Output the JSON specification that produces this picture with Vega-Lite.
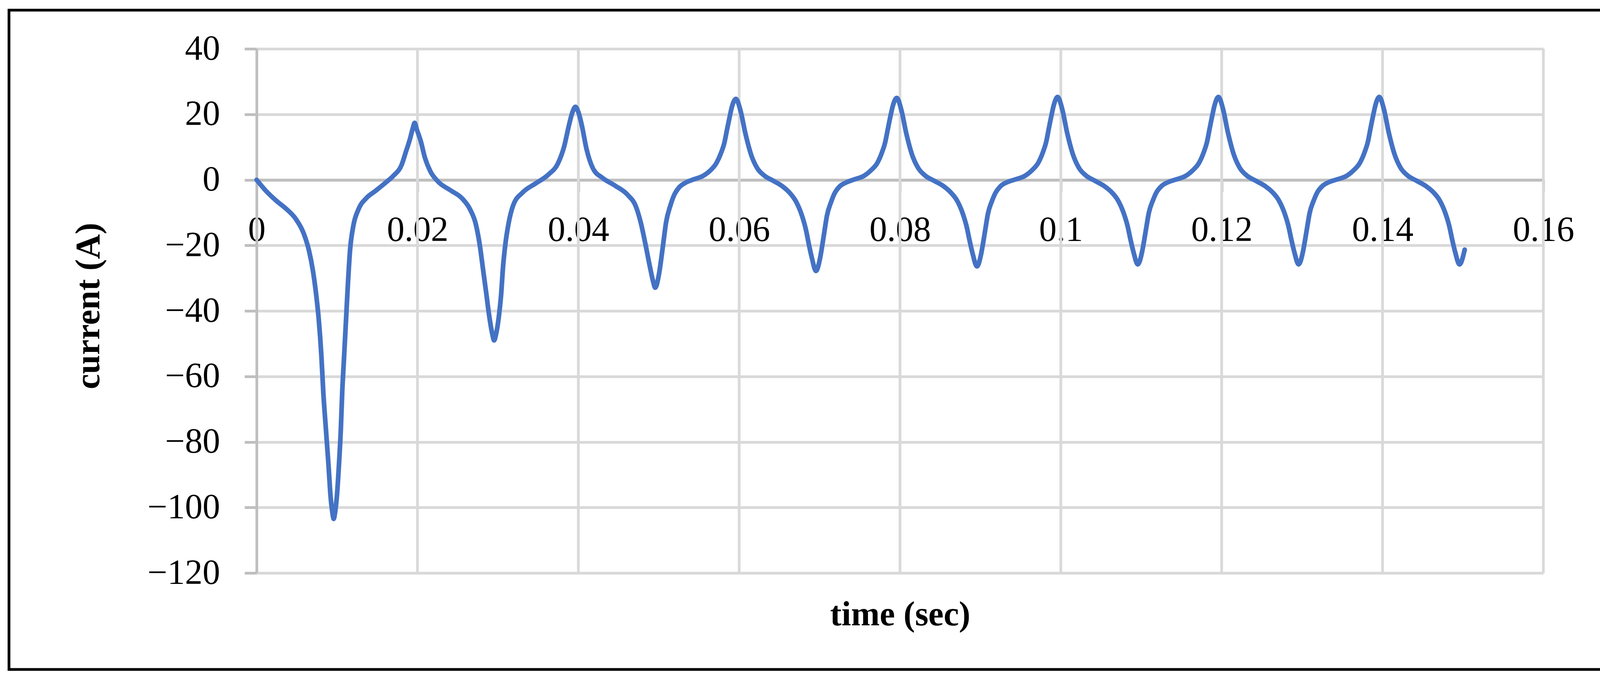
{
  "$schema": "https://vega.github.io/schema/vega-lite/v6.json",
  "autosize": {"type": "none"},
  "width": 4107,
  "height": 1688,
  "padding": {"left": 23, "top": 26, "right": 23, "bottom": 27},
  "background": "#ffffff",
  "config": {
    "view": {"stroke": "#000000", "strokeWidth": 7},
    "axis": {
      "labelFont": "Liberation Serif",
      "labelFontSize": 90,
      "labelColor": "#000000",
      "labelLimit": 0,
      "titleFont": "Liberation Serif",
      "titleFontSize": 88,
      "titleFontWeight": "bold",
      "titleColor": "#000000",
      "titleLimit": 0,
      "domainColor": "#bfbfbf",
      "domainWidth": 7,
      "tickColor": "#bfbfbf",
      "tickWidth": 7,
      "tickSize": 31,
      "labelOverlap": false,
      "labelFlush": false
    }
  },
  "layer": [
    {
      "data": {"values": [
        {"t": 0.02}, {"t": 0.04}, {"t": 0.06}, {"t": 0.08},
        {"t": 0.1}, {"t": 0.12}, {"t": 0.14}, {"t": 0.16}
      ]},
      "mark": {"type": "rule", "color": "#d9d9d9", "strokeWidth": 7},
      "encoding": {
        "x": {"field": "t", "type": "quantitative"},
        "y": {"datum": -120, "type": "quantitative"},
        "y2": {"datum": 40}
      }
    },
    {
      "data": {"values": [
        {"t": 0, "i": 0},
        {"t": 0.00117, "i": -3.4},
        {"t": 0.00246, "i": -6.4},
        {"t": 0.00375, "i": -9.0},
        {"t": 0.00489, "i": -12.0},
        {"t": 0.00586, "i": -16.4},
        {"t": 0.00651, "i": -21.6},
        {"t": 0.00699, "i": -27.6},
        {"t": 0.0074, "i": -35.0},
        {"t": 0.00772, "i": -42.5},
        {"t": 0.00805, "i": -53.7},
        {"t": 0.00829, "i": -64.9},
        {"t": 0.00861, "i": -76.0},
        {"t": 0.00894, "i": -87.2},
        {"t": 0.00918, "i": -96.2},
        {"t": 0.00942, "i": -101.6},
        {"t": 0.00958, "i": -103.5},
        {"t": 0.00975, "i": -101.6},
        {"t": 0.00999, "i": -96.2},
        {"t": 0.01023, "i": -87.2},
        {"t": 0.01047, "i": -76.0},
        {"t": 0.01064, "i": -64.9},
        {"t": 0.01088, "i": -53.7},
        {"t": 0.01112, "i": -42.5},
        {"t": 0.01136, "i": -31.3},
        {"t": 0.01161, "i": -21.6},
        {"t": 0.01201, "i": -14.2},
        {"t": 0.01266, "i": -9.0},
        {"t": 0.01363, "i": -5.6},
        {"t": 0.01476, "i": -3.4},
        {"t": 0.01606, "i": -0.8},
        {"t": 0.01703, "i": 1.3},
        {"t": 0.01803, "i": 4.6},
        {"t": 0.01855, "i": 8.5},
        {"t": 0.01908, "i": 12.6},
        {"t": 0.0194, "i": 15.6},
        {"t": 0.01965, "i": 17.4},
        {"t": 0.0199, "i": 15.5},
        {"t": 0.02041, "i": 11.8},
        {"t": 0.02091, "i": 6.9},
        {"t": 0.0216, "i": 2.6},
        {"t": 0.02259, "i": -0.6},
        {"t": 0.02418, "i": -3.3},
        {"t": 0.02556, "i": -5.7},
        {"t": 0.02656, "i": -9.1},
        {"t": 0.02725, "i": -13.5},
        {"t": 0.02774, "i": -19.8},
        {"t": 0.02814, "i": -27.1},
        {"t": 0.02854, "i": -34.4},
        {"t": 0.02893, "i": -41.7},
        {"t": 0.0293, "i": -47.0},
        {"t": 0.02953, "i": -49.0},
        {"t": 0.02978, "i": -47.0},
        {"t": 0.03012, "i": -41.7},
        {"t": 0.03042, "i": -34.4},
        {"t": 0.03062, "i": -27.1},
        {"t": 0.03092, "i": -19.8},
        {"t": 0.03131, "i": -13.5},
        {"t": 0.03191, "i": -7.7},
        {"t": 0.0331, "i": -3.8},
        {"t": 0.03468, "i": -1.1},
        {"t": 0.03627, "i": 1.6},
        {"t": 0.03746, "i": 5.0},
        {"t": 0.03825, "i": 10.3},
        {"t": 0.03884, "i": 16.7},
        {"t": 0.03925, "i": 20.5},
        {"t": 0.03964, "i": 22.3},
        {"t": 0.04003, "i": 20.5},
        {"t": 0.04043, "i": 16.7},
        {"t": 0.04102, "i": 9.4},
        {"t": 0.04182, "i": 3.5},
        {"t": 0.043, "i": 0.6},
        {"t": 0.04459, "i": -1.8},
        {"t": 0.04618, "i": -4.7},
        {"t": 0.04717, "i": -8.2},
        {"t": 0.04776, "i": -13.0},
        {"t": 0.04836, "i": -19.8},
        {"t": 0.04895, "i": -27.1},
        {"t": 0.04932, "i": -31.2},
        {"t": 0.04955, "i": -32.9},
        {"t": 0.05007, "i": -28.2},
        {"t": 0.05036, "i": -23.2},
        {"t": 0.05063, "i": -18.1},
        {"t": 0.05091, "i": -13.0},
        {"t": 0.05144, "i": -7.9},
        {"t": 0.05185, "i": -5.0},
        {"t": 0.0525, "i": -2.4},
        {"t": 0.05331, "i": -0.9},
        {"t": 0.05428, "i": 0.1},
        {"t": 0.05557, "i": 1.3},
        {"t": 0.05638, "i": 2.8},
        {"t": 0.05719, "i": 5.2},
        {"t": 0.05776, "i": 8.3},
        {"t": 0.05816, "i": 11.3},
        {"t": 0.05848, "i": 15.2},
        {"t": 0.05881, "i": 19.1},
        {"t": 0.0591, "i": 22.3},
        {"t": 0.0596, "i": 24.7},
        {"t": 0.06017, "i": 21.1},
        {"t": 0.06078, "i": 14.1},
        {"t": 0.06151, "i": 7.5},
        {"t": 0.06224, "i": 3.6},
        {"t": 0.06313, "i": 1.3},
        {"t": 0.06426, "i": -0.3},
        {"t": 0.0654, "i": -2.0},
        {"t": 0.06637, "i": -4.2},
        {"t": 0.06709, "i": -6.7},
        {"t": 0.06782, "i": -11.0},
        {"t": 0.06831, "i": -15.3},
        {"t": 0.06866, "i": -19.6},
        {"t": 0.06904, "i": -23.8},
        {"t": 0.06955, "i": -27.8},
        {"t": 0.07007, "i": -23.8},
        {"t": 0.07036, "i": -19.6},
        {"t": 0.07063, "i": -15.3},
        {"t": 0.07091, "i": -11.0},
        {"t": 0.07144, "i": -6.7},
        {"t": 0.07185, "i": -4.2},
        {"t": 0.0725, "i": -2.0},
        {"t": 0.07331, "i": -0.8},
        {"t": 0.07428, "i": 0.1},
        {"t": 0.07557, "i": 1.3},
        {"t": 0.07638, "i": 2.9},
        {"t": 0.07719, "i": 5.2},
        {"t": 0.07776, "i": 8.4},
        {"t": 0.07816, "i": 11.5},
        {"t": 0.07848, "i": 15.4},
        {"t": 0.07881, "i": 19.4},
        {"t": 0.0791, "i": 22.5},
        {"t": 0.0796, "i": 25.0},
        {"t": 0.08017, "i": 21.3},
        {"t": 0.08078, "i": 14.2},
        {"t": 0.08151, "i": 7.6},
        {"t": 0.08224, "i": 3.7},
        {"t": 0.08313, "i": 1.3},
        {"t": 0.08426, "i": -0.3},
        {"t": 0.0854, "i": -1.9},
        {"t": 0.08637, "i": -4.0},
        {"t": 0.08709, "i": -6.3},
        {"t": 0.08782, "i": -10.4},
        {"t": 0.08831, "i": -14.5},
        {"t": 0.08866, "i": -18.6},
        {"t": 0.08904, "i": -22.6},
        {"t": 0.08957, "i": -26.4},
        {"t": 0.09009, "i": -22.6},
        {"t": 0.09038, "i": -18.6},
        {"t": 0.09065, "i": -14.5},
        {"t": 0.09093, "i": -10.4},
        {"t": 0.09146, "i": -6.3},
        {"t": 0.09187, "i": -4.0},
        {"t": 0.09252, "i": -1.9},
        {"t": 0.09333, "i": -0.7},
        {"t": 0.0943, "i": 0.1},
        {"t": 0.09559, "i": 1.3},
        {"t": 0.0964, "i": 2.9},
        {"t": 0.09721, "i": 5.3},
        {"t": 0.09778, "i": 8.5},
        {"t": 0.09818, "i": 11.6},
        {"t": 0.0985, "i": 15.6},
        {"t": 0.09883, "i": 19.6},
        {"t": 0.09912, "i": 22.8},
        {"t": 0.0996, "i": 25.3},
        {"t": 0.10017, "i": 21.6},
        {"t": 0.10078, "i": 14.4},
        {"t": 0.10151, "i": 7.7},
        {"t": 0.10224, "i": 3.7},
        {"t": 0.10313, "i": 1.3},
        {"t": 0.10426, "i": -0.3},
        {"t": 0.1054, "i": -1.9},
        {"t": 0.10637, "i": -3.9},
        {"t": 0.10709, "i": -6.2},
        {"t": 0.10782, "i": -10.2},
        {"t": 0.10831, "i": -14.2},
        {"t": 0.10866, "i": -18.2},
        {"t": 0.10904, "i": -22.1},
        {"t": 0.10957, "i": -25.8},
        {"t": 0.11009, "i": -22.1},
        {"t": 0.11038, "i": -18.2},
        {"t": 0.11065, "i": -14.2},
        {"t": 0.11093, "i": -10.2},
        {"t": 0.11146, "i": -6.2},
        {"t": 0.11187, "i": -3.9},
        {"t": 0.11252, "i": -1.9},
        {"t": 0.11333, "i": -0.7},
        {"t": 0.1143, "i": 0.1},
        {"t": 0.11559, "i": 1.3},
        {"t": 0.1164, "i": 2.9},
        {"t": 0.11721, "i": 5.3},
        {"t": 0.11778, "i": 8.5},
        {"t": 0.11818, "i": 11.6},
        {"t": 0.1185, "i": 15.6},
        {"t": 0.11883, "i": 19.6},
        {"t": 0.11912, "i": 22.8},
        {"t": 0.1196, "i": 25.3},
        {"t": 0.12017, "i": 21.6},
        {"t": 0.12078, "i": 14.4},
        {"t": 0.12151, "i": 7.7},
        {"t": 0.12224, "i": 3.7},
        {"t": 0.12313, "i": 1.3},
        {"t": 0.12426, "i": -0.3},
        {"t": 0.1254, "i": -1.9},
        {"t": 0.12637, "i": -3.9},
        {"t": 0.12709, "i": -6.2},
        {"t": 0.12782, "i": -10.2},
        {"t": 0.12831, "i": -14.2},
        {"t": 0.12866, "i": -18.2},
        {"t": 0.12904, "i": -22.1},
        {"t": 0.12957, "i": -25.8},
        {"t": 0.13009, "i": -22.1},
        {"t": 0.13038, "i": -18.2},
        {"t": 0.13065, "i": -14.2},
        {"t": 0.13093, "i": -10.2},
        {"t": 0.13146, "i": -6.2},
        {"t": 0.13187, "i": -3.9},
        {"t": 0.13252, "i": -1.9},
        {"t": 0.13333, "i": -0.7},
        {"t": 0.1343, "i": 0.1},
        {"t": 0.13559, "i": 1.3},
        {"t": 0.1364, "i": 2.9},
        {"t": 0.13721, "i": 5.3},
        {"t": 0.13778, "i": 8.5},
        {"t": 0.13818, "i": 11.6},
        {"t": 0.1385, "i": 15.6},
        {"t": 0.13883, "i": 19.6},
        {"t": 0.13912, "i": 22.8},
        {"t": 0.1396, "i": 25.3},
        {"t": 0.14017, "i": 21.6},
        {"t": 0.14078, "i": 14.4},
        {"t": 0.14151, "i": 7.7},
        {"t": 0.14224, "i": 3.7},
        {"t": 0.14313, "i": 1.3},
        {"t": 0.14426, "i": -0.3},
        {"t": 0.1454, "i": -1.9},
        {"t": 0.14637, "i": -3.9},
        {"t": 0.14709, "i": -6.2},
        {"t": 0.14782, "i": -10.2},
        {"t": 0.14831, "i": -14.2},
        {"t": 0.14866, "i": -18.2},
        {"t": 0.14904, "i": -22.1},
        {"t": 0.14957, "i": -25.8},
        {"t": 0.15022, "i": -21.3}
      ]},
      "mark": {"type": "line", "color": "#4472c4", "strokeWidth": 12, "interpolate": "monotone", "strokeCap": "round", "strokeJoin": "round"},
      "encoding": {
        "x": {
          "field": "t",
          "type": "quantitative",
          "scale": {"domain": [0, 0.16], "range": [634, 3928], "nice": false, "zero": false},
          "axis": {
            "orient": "bottom",
            "offset": -1253.5,
            "values": [0, 0.02, 0.04, 0.06, 0.08, 0.1, 0.12, 0.14, 0.16],
            "format": "~g",
            "grid": false,
            "labelPadding": 125,
            "labelBaseline": "alphabetic",
            "labelAlign": "center",
            "title": "time (sec)",
            "titleX": 2281,
            "titleY": 1139.5,
            "titleAlign": "center",
            "titleBaseline": "alphabetic",
            "titleAngle": 0
          }
        },
        "y": {
          "field": "i",
          "type": "quantitative",
          "scale": {"domain": [-120, 40], "range": [1441, 99], "nice": false, "zero": false},
          "axis": {
            "orient": "left",
            "offset": -634,
            "values": [-120, -100, -80, -60, -40, -20, 0, 20, 40],
            "grid": true,
            "gridColor": {"condition": {"test": "datum.value === 0", "value": "#bfbfbf"}, "value": "#d9d9d9"},
            "gridWidth": 7,
            "labelPadding": 63,
            "labelAlign": "right",
            "labelBaseline": "middle",
            "title": "current (A)",
            "titleX": -404,
            "titleY": 757,
            "titleAngle": 270,
            "titleAlign": "center",
            "titleBaseline": "alphabetic"
          }
        }
      }
    }
  ]
}
